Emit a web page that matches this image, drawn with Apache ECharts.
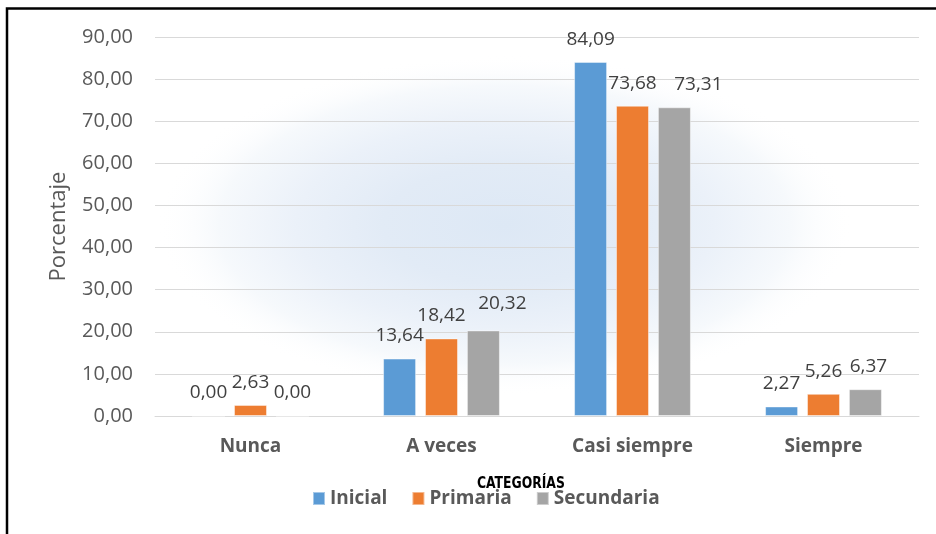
<!DOCTYPE html>
<html><head><meta charset="utf-8">
<script src="https://cdn.jsdelivr.net/npm/echarts@6/dist/echarts.min.js"></script>
<style>html,body{margin:0;padding:0;background:#fff}#c{width:936px;height:534px}</style>
</head><body><div id="c"></div>
<script>
const categories = ['Nunca', 'A veces', 'Casi siempre', 'Siempre'];
const seriesNames = ['Inicial', 'Primaria', 'Secundaria'];
const inicial = [0.00, 13.64, 84.09, 2.27];
const primaria = [2.63, 18.42, 73.68, 5.26];
const secundaria = [0.00, 20.32, 73.31, 6.37];
const yMin = 0, yMax = 90, yStep = 10;

// styling only: label nudges (Excel-like overlap avoidance) per series/category
const labelNudges = [
  [[0, 0], [0, 0], [0, 0], [0, 0]],
  [[0, 0], [0, 0], [0, 0], [0, 0]],
  [[0, 0], [19, -4], [24, 0], [3, 0]]
];

const colors = ['#5b9bd5', '#ed7d31', '#a5a5a5'];
const fmt = v => Number(v).toFixed(2).replace('.', ',');
const FONT = '"Open Sans", "DejaVu Sans", sans-serif';

const chart = echarts.init(document.getElementById('c'));
function mk(name, values, i) {
  return {
    name, type: 'bar',
    data: values.map((v, j) => ({ value: v, label: { offset: labelNudges[i][j] } })),
    barWidth: 33, barGap: '27%',
    itemStyle: { color: colors[i], borderColor: 'rgba(255,255,255,0.45)', borderWidth: 1 },
    label: { show: true, position: 'top', distance: 13, formatter: p => fmt(p.value),
      fontFamily: FONT, fontSize: 19, color: '#404040' },
    z: 3
  };
}
chart.setOption({
  animation: false,
  backgroundColor: '#ffffff',
  color: colors,
  graphic: [
    { type: 'circle', z: -10, silent: true, x: 505, y: 225, scaleX: 2.05, scaleY: 1,
      shape: { cx: 0, cy: 0, r: 170 },
      style: { fill: new echarts.graphic.RadialGradient(0.5, 0.5, 0.5, [
        { offset: 0, color: '#dde8f5' },
        { offset: 0.35, color: '#e2ebf6' },
        { offset: 0.6, color: '#ebf1f9' },
        { offset: 0.82, color: '#f6f9fc' },
        { offset: 1, color: 'rgba(255,255,255,0)' }
      ]) } },
    { type: 'polyline', z: 10, silent: true,
      shape: { points: [[7, 534], [7, 8.5], [936, 8.5]] },
      style: { stroke: '#000', lineWidth: 2.5, fill: null } },
    { type: 'text', z: 10, silent: true, x: 477, y: 476, scaleX: 0.86,
      style: { text: 'CATEGORÍAS', fontFamily: '"Liberation Sans Narrow", "DejaVu Sans Condensed", sans-serif',
        fontWeight: 'bold', fontSize: 16, fill: '#000' } }
  ],
  grid: { left: 155, right: 17, top: 37, bottom: 118 },
  legend: {
    data: seriesNames, bottom: 21, left: 307, itemWidth: 12, itemHeight: 13, itemGap: 24,
    icon: 'rect',
    textStyle: { fontFamily: FONT, fontWeight: 'bold', fontSize: 19, color: '#595959' }
  },
  xAxis: {
    type: 'category', data: categories,
    axisLine: { lineStyle: { color: '#d9d9d9', width: 1 } },
    axisTick: { show: false },
    axisLabel: { fontFamily: FONT, fontWeight: 'bold', fontSize: 19, color: '#595959', margin: 21 }
  },
  yAxis: {
    type: 'value', min: yMin, max: yMax, interval: yStep,
    name: 'Porcentaje', nameLocation: 'middle', nameGap: 85,
    nameTextStyle: { fontFamily: FONT, fontSize: 22, color: '#595959' },
    axisLine: { show: false }, axisTick: { show: false },
    axisLabel: { formatter: v => fmt(v), fontFamily: FONT, fontSize: 20, color: '#595959', margin: 22 },
    splitLine: { lineStyle: { color: '#d9d9d9', width: 1 } }
  },
  series: [mk(seriesNames[0], inicial, 0), mk(seriesNames[1], primaria, 1), mk(seriesNames[2], secundaria, 2)]
});
</script></body></html>
